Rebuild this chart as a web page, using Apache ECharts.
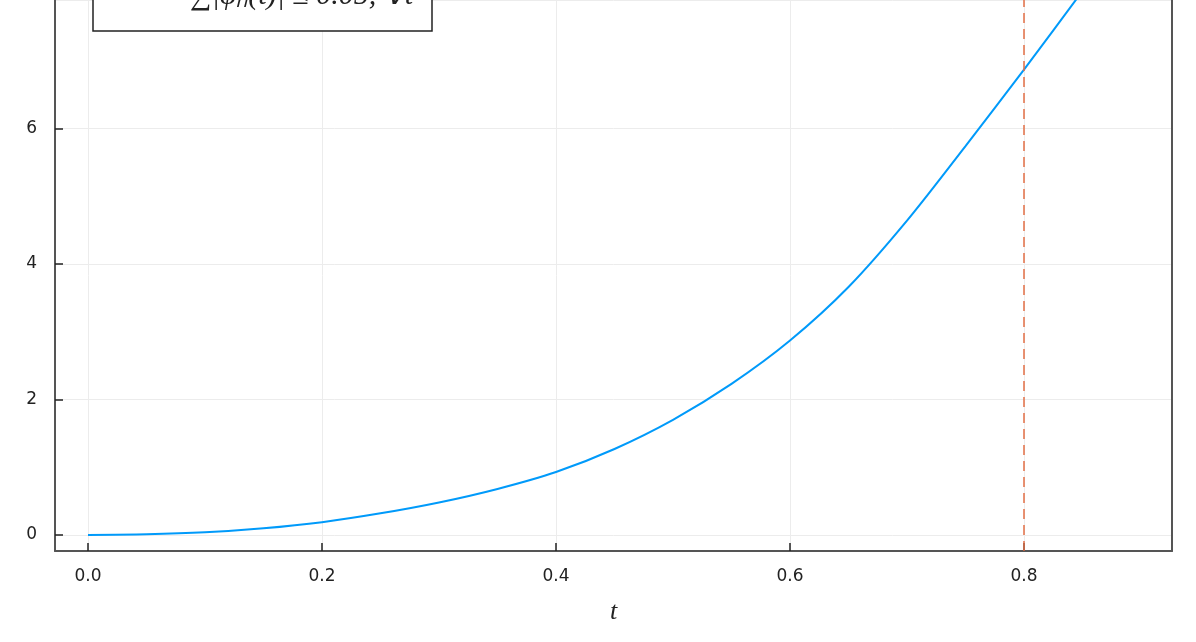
<!DOCTYPE html>
<html>
<head>
<meta charset="utf-8">
<script src="https://cdn.jsdelivr.net/npm/echarts@6/dist/echarts.min.js"></script>
<style>
  html, body { margin: 0; padding: 0; background: #fff; }
  #chart { width: 1196px; height: 642px; }
</style>
</head>
<body>
<div id="chart"></div>
<script>
// t 采样点与曲线值
const tValues = [0, 0.05, 0.1, 0.15, 0.2, 0.25, 0.3, 0.35, 0.4, 0.45, 0.5, 0.55, 0.6, 0.65, 0.7, 0.75, 0.8, 0.85, 0.9];
const yValues = [0, 0.01, 0.04, 0.1, 0.19, 0.32, 0.48, 0.68, 0.93, 1.27, 1.7, 2.23, 2.87, 3.66, 4.64, 5.74, 6.87, 8.03, 9.19];
// 红色虚线位置
const cutoffT = 0.8;
const legendLabel = '\u2211|\u03c6\u2099(t)| \u2264 0.05, \u2200t';

const chart = echarts.init(document.getElementById('chart'));

const axisColor = '#555';
const labelStyle = { color: '#222', fontSize: 17, fontFamily: 'DejaVu Sans' };
const tickStyle = { show: true, inside: true, length: 8, lineStyle: { color: '#222', width: 1.5 } };

const option = {
  animation: false,
  backgroundColor: '#fff',
  grid: {
    left: 55,
    right: 24,
    top: 0,
    bottom: 91
  },
  xAxis: {
    type: 'value',
    min: -0.0282,
    max: 0.9265,
    splitNumber: 5,
    name: 't',
    nameLocation: 'middle',
    nameGap: 48,
    nameTextStyle: { fontFamily: 'Liberation Serif', fontStyle: 'italic', fontSize: 26, color: '#222' },
    axisLine: { show: true, onZero: false, lineStyle: { color: axisColor, width: 2 } },
    axisTick: tickStyle,
    axisLabel: Object.assign({ margin: 17, showMinLabel: false, showMaxLabel: false,
      formatter: v => v.toFixed(1) }, labelStyle),
    splitLine: { show: true, lineStyle: { color: '#ececec', width: 1 } }
  },
  yAxis: [{
    type: 'value',
    min: -0.236,
    max: 7.897,
    splitNumber: 4,
    axisLine: { show: true, onZero: false, lineStyle: { color: axisColor, width: 2 } },
    axisTick: tickStyle,
    axisLabel: Object.assign({ margin: 18, showMinLabel: false, showMaxLabel: false }, labelStyle),
    splitLine: { show: true, lineStyle: { color: '#ececec', width: 1 } }
  }, {
    // 右侧边框
    type: 'value',
    position: 'right',
    min: -0.236,
    max: 7.897,
    axisLine: { show: true, onZero: false, lineStyle: { color: axisColor, width: 2 } },
    axisTick: { show: false },
    axisLabel: { show: false },
    splitLine: { show: false }
  }],
  series: [{
    type: 'line',
    data: tValues.map((t, i) => [t, yValues[i]]),
    smooth: 0.3,
    showSymbol: false,
    lineStyle: { color: '#009afa', width: 2 },
    markLine: {
      silent: true,
      symbol: 'none',
      label: { show: false },
      lineStyle: { color: '#e26f46', type: [10, 6], width: 1.5 },
      data: [{ xAxis: cutoffT }]
    }
  }],
  graphic: [
    // 图例框（上半部分被裁掉）
    {
      type: 'rect',
      shape: { x: 93, y: -60, width: 339, height: 91 },
      style: { fill: '#fff', stroke: '#222', lineWidth: 1.5 },
      z: 100
    },
    {
      type: 'text',
      x: 190,
      y: -4,
      style: {
        text: legendLabel,
        fill: '#222',
        font: 'italic 30px "Liberation Serif"',
        verticalAlign: 'middle'
      },
      z: 101
    }
  ]
};

chart.setOption(option);
</script>
</body>
</html>
